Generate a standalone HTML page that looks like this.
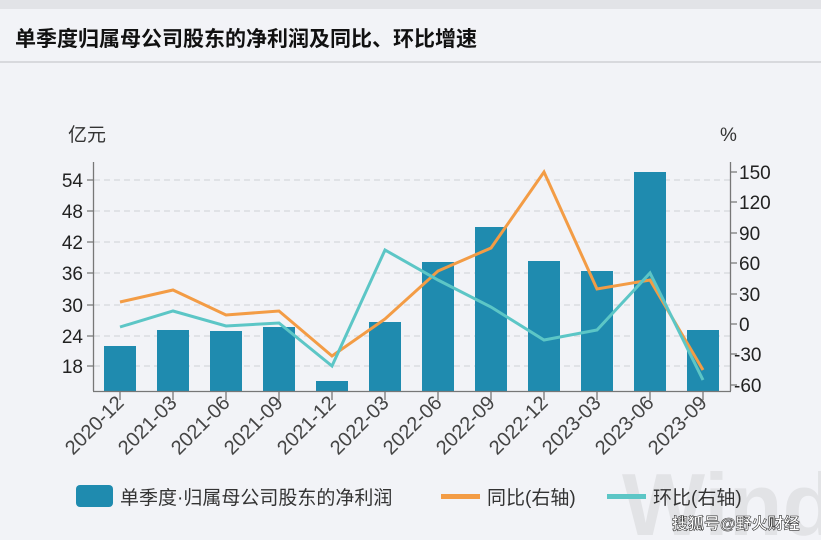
<!DOCTYPE html>
<html><head><meta charset="utf-8"><style>
body{margin:0;background:#f2f3f7;}
svg{display:block;font-family:"Liberation Sans","Noto Sans CJK SC",sans-serif;}
</style></head><body>
<svg width="821" height="540" viewBox="0 0 821 540">
<rect width="821" height="540" fill="#f2f3f7"/>
<rect width="821" height="9" fill="#e2e3e7"/>
<text x="15" y="46" font-size="21" font-weight="bold" fill="#111">单季度归属母公司股东的净利润及同比、环比增速</text>
<line x1="0" y1="62" x2="821" y2="62" stroke="#c8c9cd" stroke-width="1.2"/>
<text x="622" y="535" font-size="88" font-weight="bold" fill="#e2e3e6">Wind</text>
<text x="68" y="141" font-size="19" fill="#333">亿元</text>
<text x="720" y="141" font-size="19" fill="#333">%</text>
<g stroke="#d6d7db" stroke-dasharray="6,4" stroke-width="1.2">
<line x1="94" y1="180" x2="730" y2="180"/><line x1="94" y1="211" x2="730" y2="211"/>
<line x1="94" y1="242" x2="730" y2="242"/><line x1="94" y1="273" x2="730" y2="273"/>
<line x1="94" y1="305" x2="730" y2="305"/><line x1="94" y1="336" x2="730" y2="336"/>
<line x1="94" y1="366" x2="730" y2="366"/>
</g>
<g fill="#1f8baf">
<rect x="104" y="346" width="32" height="45"/><rect x="157" y="330" width="32" height="61"/>
<rect x="210" y="331" width="32" height="60"/><rect x="263" y="327" width="32" height="64"/>
<rect x="316" y="381" width="32" height="10"/><rect x="369" y="322" width="32" height="69"/>
<rect x="422" y="262" width="32" height="129"/><rect x="475" y="227" width="32" height="164"/>
<rect x="528" y="261" width="32" height="130"/><rect x="581" y="271" width="32" height="120"/>
<rect x="634" y="172" width="32" height="219"/><rect x="687" y="330" width="32" height="61"/>
</g>
<polyline fill="none" stroke="#f39c45" stroke-width="3" points="120,302 173,290 226,315 279,311 332,356 385,319 438,271 491,248 544,172 597,289 650,280 703,370"/>
<polyline fill="none" stroke="#5cc6c6" stroke-width="3" points="120,327 173,311 226,326 279,323 332,366 385,250 438,280 491,307 544,340 597,330 650,273 703,380"/>
<g stroke="#777" stroke-width="1.3" fill="none">
<line x1="93.5" y1="162" x2="93.5" y2="391"/>
<line x1="730.5" y1="162" x2="730.5" y2="391"/>
<line x1="93" y1="391.5" x2="731" y2="391.5"/>
<path d="M87 180h6M87 211h6M87 242h6M87 273h6M87 305h6M87 336h6M87 366h6"/>
<path d="M730 172h7M730 202h7M730 233h7M730 263h7M730 294h7M730 324h7M730 354h7M730 385h7"/>
<path d="M120 391v9M173 391v9M226 391v9M279 391v9M332 391v9M385 391v9M438 391v9M491 391v9M544 391v9M597 391v9M650 391v9M703 391v9"/>
</g>
<g font-size="19" fill="#222" text-anchor="end">
<text x="83" y="187">54</text><text x="83" y="218">48</text><text x="83" y="249">42</text>
<text x="83" y="280">36</text><text x="83" y="312">30</text><text x="83" y="343">24</text><text x="83" y="373">18</text>
</g>
<g font-size="19" fill="#222">
<text x="739" y="179">150</text><text x="739" y="209">120</text><text x="739" y="240">90</text>
<text x="739" y="270">60</text><text x="739" y="301">30</text><text x="739" y="331">0</text>
<text x="734" y="361">-30</text><text x="734" y="392">-60</text>
</g>
<g font-size="20" fill="#444" text-anchor="end">
<text transform="translate(125,404) rotate(-45)">2020-12</text>
<text transform="translate(178,404) rotate(-45)">2021-03</text>
<text transform="translate(231,404) rotate(-45)">2021-06</text>
<text transform="translate(284,404) rotate(-45)">2021-09</text>
<text transform="translate(337,404) rotate(-45)">2021-12</text>
<text transform="translate(390,404) rotate(-45)">2022-03</text>
<text transform="translate(443,404) rotate(-45)">2022-06</text>
<text transform="translate(496,404) rotate(-45)">2022-09</text>
<text transform="translate(549,404) rotate(-45)">2022-12</text>
<text transform="translate(602,404) rotate(-45)">2023-03</text>
<text transform="translate(655,404) rotate(-45)">2023-06</text>
<text transform="translate(708,404) rotate(-45)">2023-09</text>
</g>
<rect x="76" y="485" width="37" height="22" rx="4" fill="#1f8baf"/>
<text x="120" y="504" font-size="19" fill="#333">单季度·归属母公司股东的净利润</text>
<rect x="441" y="494" width="39" height="5" fill="#f39c45"/>
<text x="487" y="504" font-size="19" fill="#333">同比(右轴)</text>
<rect x="607" y="494" width="39" height="5" fill="#5cc6c6"/>
<text x="653" y="504" font-size="19" fill="#333">环比(右轴)</text>
<text x="672" y="529" font-size="16" font-weight="bold" fill="#fff" stroke="#333" stroke-width="0.6">搜狐号@野火财经</text>
</svg>
</body></html>
